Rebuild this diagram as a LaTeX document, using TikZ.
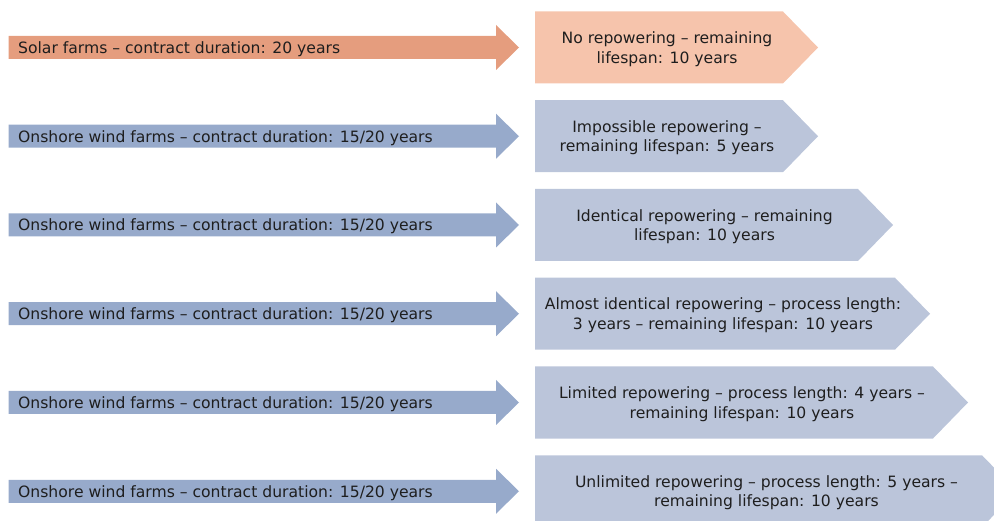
\documentclass[tikz,border=0pt]{standalone}
\usepackage{fontspec}
\setmainfont{DejaVu Sans}
\definecolor{arrowsolar}{RGB}{229,157,126}
\definecolor{boxsolar}{RGB}{246,196,172}
\definecolor{arrowwind}{RGB}{151,170,203}
\definecolor{boxwind}{RGB}{187,197,218}
\definecolor{txtgray}{RGB}{30,30,30}
\newcommand{\windsrc}{Onshore wind farms -- contract duration: 15/20 years}
\tikzset{srcText/.style={anchor=west,inner sep=0pt,yshift=-1.5pt,text=txtgray,font=\fontsize{15.6}{19}\selectfont}}
\tikzset{resText/.style={align=center,inner sep=0pt,yshift=-1.5pt,text=txtgray,font=\fontsize{15.6}{19.5}\selectfont}}

\begin{document}
\begin{tikzpicture}[x=1pt,y=-1pt]
  \useasboundingbox (0,0) rectangle (994,521);
  \clip (0,0) rectangle (994,521);
  % arrows and result boxes, one row each
  \foreach \i/\y/\sh/\cl/\src/\res in {
      1/47.5/783/solar/{Solar farms -- contract duration: 20 years}/{No repowering -- remaining\\lifespan: 10 years},
      2/136.25/783/wind/{\windsrc}/{Impossible repowering --\\remaining lifespan: 5 years},
      3/225/858/wind/{\windsrc}/{Identical repowering -- remaining\\lifespan: 10 years},
      4/313.75/895/wind/{\windsrc}/{Almost identical repowering -- process length:\\3 years -- remaining lifespan: 10 years},
      5/402.5/933/wind/{\windsrc}/{Limited repowering -- process length: 4 years --\\remaining lifespan: 10 years},
      6/491.25/982/wind/{\windsrc}/{Unlimited repowering -- process length: 5 years --\\remaining lifespan: 10 years}}{
    \fill[arrow\cl] (8.5,\y-11.5) -- (496,\y-11.5) -- (496,\y-22.5) -- (519,\y)
      -- (496,\y+22.5) -- (496,\y+11.5) -- (8.5,\y+11.5) -- cycle;
    \fill[box\cl] (535,\y-36) -- (\sh,\y-36) -- (\sh+35,\y) -- (\sh,\y+36) -- (535,\y+36) -- cycle;
    \node[srcText] (src\i) at (18,\y) {\src};
    \node[resText] (res\i) at ({(535+\sh)/2+8},\y) {\res};
  }
\end{tikzpicture}
\end{document}
